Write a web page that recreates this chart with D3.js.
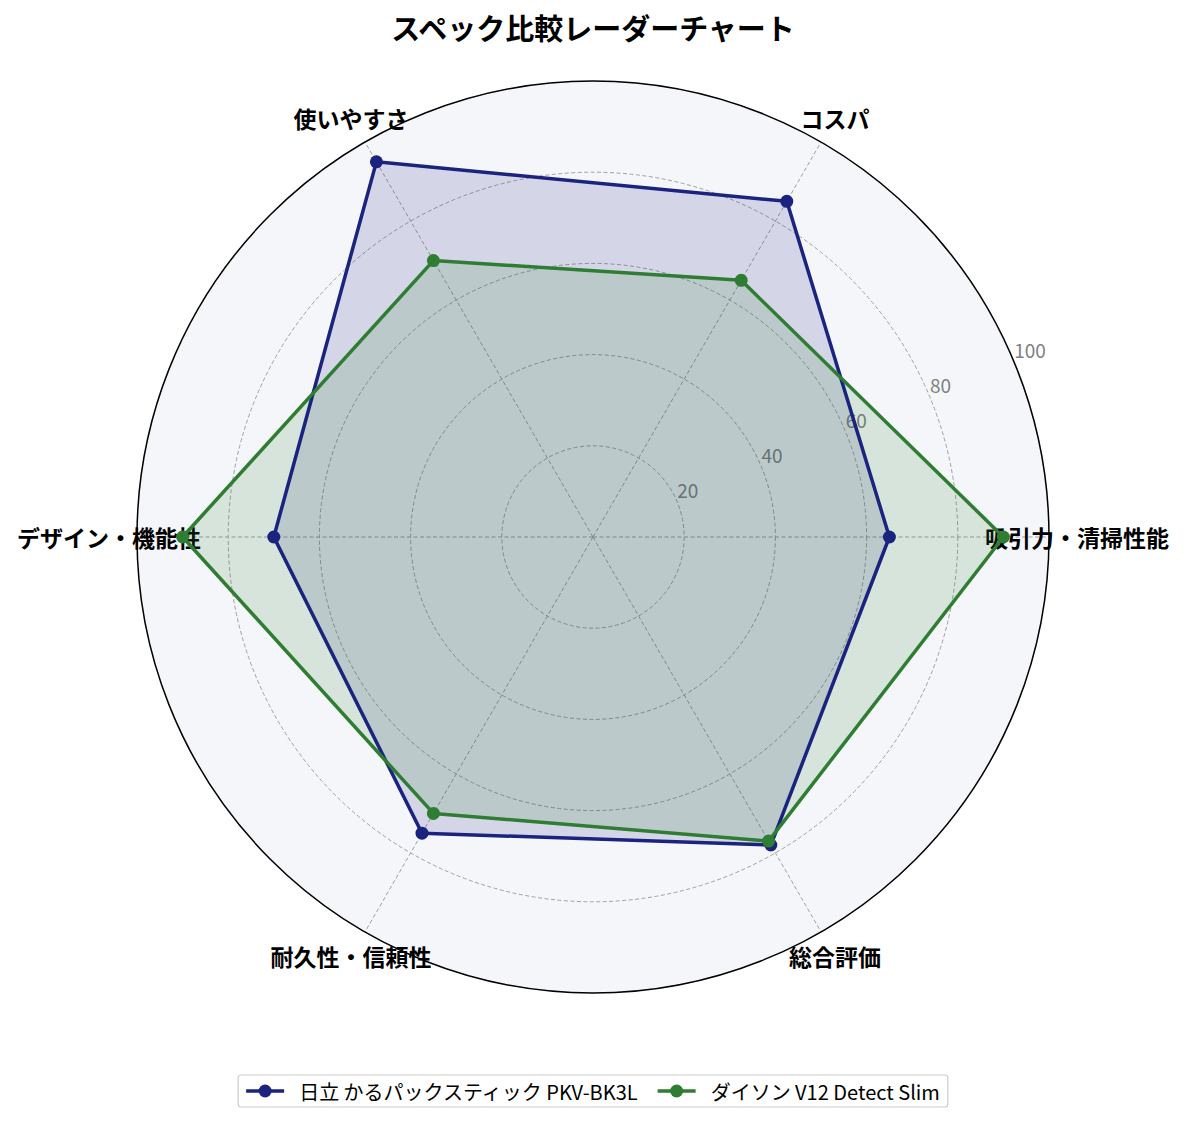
<!DOCTYPE html>
<html>
<head>
<meta charset="utf-8">
<script src="https://cdn.jsdelivr.net/npm/d3@7"></script>
<style>
  body { margin: 0; background: #fff; font-family: "Noto Sans CJK JP", "Noto Sans", sans-serif; }
</style>
</head>
<body>
<div id="radar"></div>
<script>
// chart data
const categories = ["吸引力・清掃性能", "コスパ", "使いやすさ", "デザイン・機能性", "耐久性・信頼性", "総合評価"];
const seriesNames = ["日立 かるパックスティック PKV-BK3L", "ダイソン V12 Detect Slim"];
const hitachiValues = [65, 85, 95, 70, 75, 78];
const dysonValues = [90, 65, 70, 90, 70, 77];
const radialTicks = [20, 40, 60, 80, 100];
const seriesColors = ["#1a237e", "#2e7d32"];

const width = 1185, height = 1124;
const cx = 593, cy = 537, R = 456;

const svg = d3.select("#radar")
  .append("svg")
    .attr("width", width)
    .attr("height", height)
    .style("font-family", '"Noto Sans CJK JP", "Noto Sans", sans-serif');

const r = d3.scaleLinear().domain([0, 100]).range([0, R]);
// angles go counter-clockwise starting at the right, like matplotlib
const angle = d3.scalePoint().domain(categories).range([0, 2 * Math.PI * 5 / 6]);

const px = (a, rad) => cx + rad * Math.cos(a);
const py = (a, rad) => cy - rad * Math.sin(a);

const g = svg.append("g");

// background
g.append("circle")
  .attr("cx", cx).attr("cy", cy).attr("r", R)
  .attr("fill", "#f5f6fa");

// grid circles
g.selectAll(".grid")
  .data(radialTicks.filter(t => t < 100))
  .join("circle")
    .attr("class", "grid")
    .attr("cx", cx).attr("cy", cy)
    .attr("r", d => r(d))
    .attr("fill", "none")
    .attr("stroke", "#a0a0a0")
    .attr("stroke-width", 1)
    .attr("stroke-dasharray", "4,2.5");

// spokes
g.selectAll(".spoke")
  .data(categories)
  .join("line")
    .attr("class", "spoke")
    .attr("x1", cx).attr("y1", cy)
    .attr("x2", d => px(angle(d), R))
    .attr("y2", d => py(angle(d), R))
    .attr("stroke", "#a0a0a0")
    .attr("stroke-width", 1)
    .attr("stroke-dasharray", "4,2.5");

// outer frame
g.append("circle")
  .attr("cx", cx).attr("cy", cy).attr("r", R)
  .attr("fill", "none")
  .attr("stroke", "#000")
  .attr("stroke-width", 1.5);

// category labels
g.selectAll(".cat")
  .data(categories)
  .join("text")
    .attr("class", "cat")
    .attr("x", d => px(angle(d), R + 28))
    .attr("y", d => py(angle(d), R + 28))
    .attr("text-anchor", "middle")
    .attr("dominant-baseline", "central")
    .style("font-size", "23px")
    .style("font-weight", "bold")
    .attr("fill", "#000")
    .text(d => d);

// radial tick labels at 22.5 degrees
const rlab = Math.PI / 8;
g.selectAll(".rtick")
  .data(radialTicks)
  .join("text")
    .attr("class", "rtick")
    .attr("x", d => px(rlab, r(d)))
    .attr("y", d => py(rlab, r(d)) - 4)
    .style("font-size", "19px")
    .attr("fill", "#808080")
    .text(d => d);

// series
const allSeries = [hitachiValues, dysonValues];
const line = d3.lineRadial()
  .angle((d, i) => Math.PI / 2 - angle(categories[i]))
  .radius(d => r(d))
  .curve(d3.curveLinearClosed);

allSeries.forEach(function(vals, k) {
  const sg = g.append("g").attr("transform", `translate(${cx},${cy})`);
  sg.append("path")
    .attr("d", line(vals))
    .attr("fill", seriesColors[k])
    .attr("fill-opacity", 0.15)
    .attr("stroke", "none");
});

allSeries.forEach(function(vals, k) {
  const sg = g.append("g").attr("transform", `translate(${cx},${cy})`);
  sg.append("path")
    .attr("d", line(vals))
    .attr("fill", "none")
    .attr("stroke", seriesColors[k])
    .attr("stroke-width", 3.5)
    .attr("stroke-linejoin", "round");
  sg.selectAll("circle")
    .data(vals)
    .join("circle")
      .attr("cx", (d, i) => r(d) * Math.cos(angle(categories[i])))
      .attr("cy", (d, i) => -r(d) * Math.sin(angle(categories[i])))
      .attr("r", 6.5)
      .attr("fill", seriesColors[k]);
});

// title
svg.append("text")
  .attr("x", cx)
  .attr("y", 27)
  .attr("text-anchor", "middle")
  .attr("dominant-baseline", "central")
  .style("font-size", "29px")
  .style("font-weight", "bold")
  .text("スペック比較レーダーチャート");

// legend
const legend = svg.append("g");
const handleW = 38, gapAfter = 15, itemGap = 20, pad = 8;
let xPos = 0;
seriesNames.forEach(function(name, k) {
  const it = legend.append("g");
  it.append("line")
    .attr("x1", 0).attr("x2", handleW)
    .attr("y1", 0).attr("y2", 0)
    .attr("stroke", seriesColors[k])
    .attr("stroke-width", 3.5);
  it.append("circle")
    .attr("cx", handleW / 2).attr("cy", 0).attr("r", 6.5)
    .attr("fill", seriesColors[k]);
  const t = it.append("text")
    .attr("x", handleW + gapAfter)
    .attr("y", 0)
    .attr("dominant-baseline", "central")
    .style("font-size", "20px")
    .text(name);
  const w = handleW + gapAfter + t.node().getComputedTextLength();
  it.attr("transform", `translate(${xPos},0)`);
  xPos += w + itemGap;
});
const totalW = xPos - itemGap;
const boxW = totalW + pad * 2, boxH = 32;
const lx = cx - boxW / 2, ly = 1091;
legend.insert("rect", ":first-child")
  .attr("x", -pad).attr("y", -boxH / 2)
  .attr("width", boxW).attr("height", boxH)
  .attr("rx", 3)
  .attr("fill", "#fff")
  .attr("stroke", "#cccccc")
  .attr("stroke-width", 1.2);
legend.attr("transform", `translate(${lx + pad},${ly})`);
</script>
</body>
</html>
